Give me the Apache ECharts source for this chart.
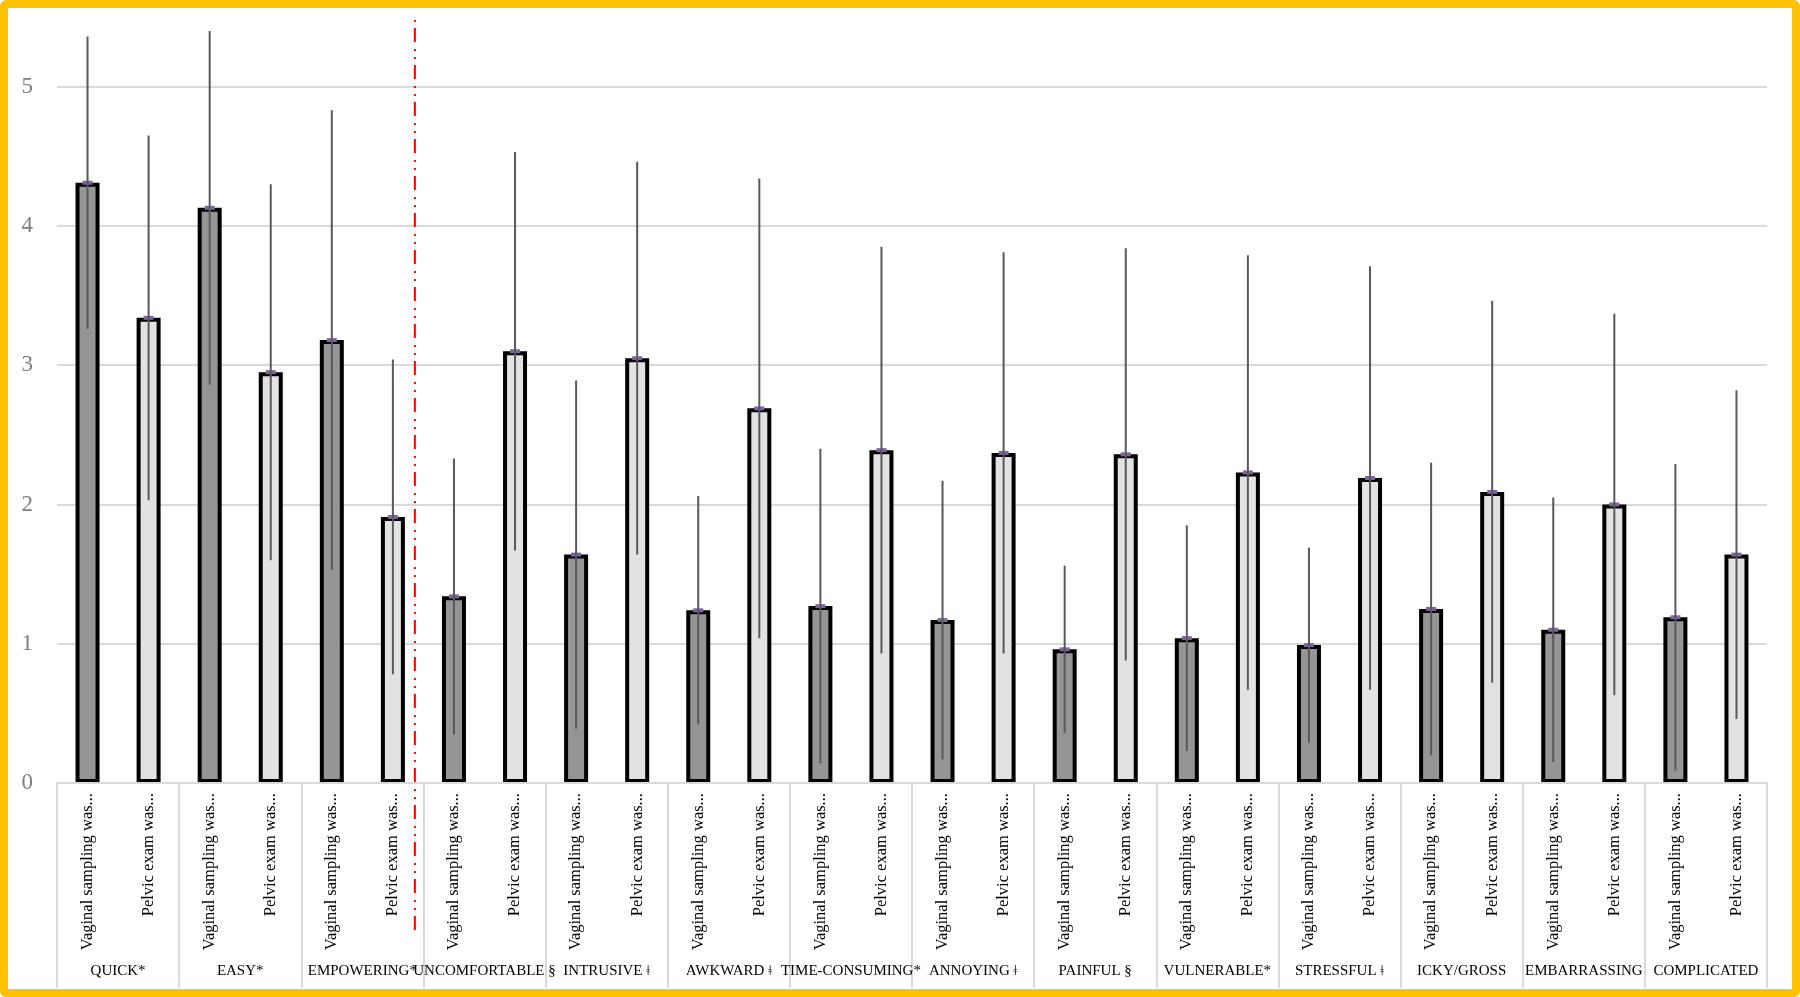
<!DOCTYPE html>
<html>
<head>
<meta charset="utf-8">
<script src="https://cdn.jsdelivr.net/npm/echarts@6.0.0/dist/echarts.min.js"></script>
<style>
  html, body { margin: 0; padding: 0; background: #ffffff; }
  #wrap { position: relative; width: 1800px; height: 997px; }
  #chart { position: absolute; left: 0; top: 0; width: 1800px; height: 997px; }
  #frame { position: absolute; left: 0; top: 0; width: 1800px; height: 997px; box-sizing: border-box;
           border: 8px solid #FFC000; border-radius: 6px; pointer-events: none; }
</style>
</head>
<body>
<div id="wrap">
  <div id="chart"></div>
  <div id="frame"></div>
</div>
<script>
// ---- data ----
const groups = ['QUICK*', 'EASY*', 'EMPOWERING*', 'UNCOMFORTABLE §', 'INTRUSIVE ǂ', 'AWKWARD ǂ',
  'TIME-CONSUMING*', 'ANNOYING ǂ', 'PAINFUL §', 'VULNERABLE*', 'STRESSFUL ǂ', 'ICKY/GROSS',
  'EMBARRASSING', 'COMPLICATED'];
const vaginalLabel = 'Vaginal sampling was...';
const pelvicLabel = 'Pelvic exam was...';
const vaginalMean = [4.31, 4.13, 3.18, 1.34, 1.64, 1.24, 1.27, 1.17, 0.96, 1.04, 0.99, 1.25, 1.10, 1.19];
const vaginalSD   = [1.05, 1.27, 1.65, 0.99, 1.25, 0.82, 1.13, 1.00, 0.60, 0.81, 0.70, 1.05, 0.95, 1.10];
const pelvicMean  = [3.34, 2.95, 1.91, 3.10, 3.05, 2.69, 2.39, 2.37, 2.36, 2.23, 2.19, 2.09, 2.00, 1.64];
const pelvicSD    = [1.31, 1.35, 1.13, 1.43, 1.41, 1.65, 1.46, 1.44, 1.48, 1.56, 1.52, 1.37, 1.37, 1.18];
const yTicks = [0, 1, 2, 3, 4, 5];
const dividerAt = 5.86; // red separator, in bar-category units

// ---- build ----
const cats = [], means = [], errs = [];
groups.forEach(function (g, i) {
  cats.push(vaginalLabel); means.push(vaginalMean[i]); errs.push([cats.length - 1, vaginalMean[i], vaginalSD[i]]);
  cats.push(pelvicLabel);  means.push(pelvicMean[i]);  errs.push([cats.length - 1, pelvicMean[i], pelvicSD[i]]);
});

const FONT = 'Liberation Serif';
const chart = echarts.init(document.getElementById('chart'), null, { renderer: 'canvas' });
chart.setOption({
  animation: false,
  backgroundColor: '#ffffff',
  grid: [
    { left: 57, right: 33, top: 17, bottom: 214 },
    { left: 57, right: 33, top: 14, bottom: 67 }
  ],
  xAxis: [
    {
      type: 'category', gridIndex: 0, data: cats, position: 'bottom', z: 5,
      axisLine: { show: true, lineStyle: { color: '#d9d9d9', width: 2 } },
      axisTick: { show: false },
      axisLabel: { interval: 0, rotate: 90, margin: 10, fontFamily: FONT, fontSize: 16.5, color: '#000000' },
      splitLine: { show: false }
    },
    {
      type: 'category', gridIndex: 0, data: groups, position: 'bottom',
      axisLine: { show: false },
      axisTick: { show: true, interval: 0, alignWithLabel: false, length: 205, lineStyle: { color: '#d9d9d9', width: 2 } },
      axisLabel: { interval: 0, margin: 181, fontFamily: FONT, fontSize: 15, color: '#000000' },
      splitLine: { show: false }
    },
    { type: 'value', gridIndex: 1, min: 0, max: cats.length, show: false }
  ],
  yAxis: [
    {
      type: 'value', gridIndex: 0, min: 0, max: 5.5, interval: 1,
      axisLine: { show: false }, axisTick: { show: false },
      axisLabel: {
        margin: 24, fontFamily: FONT, fontSize: 23, color: '#7f7f7f', showMaxLabel: false,
        formatter: function (v) { return yTicks.indexOf(v) >= 0 ? String(v) : ''; }
      },
      splitLine: { show: true, showMaxLine: false, lineStyle: { color: '#d9d9d9', width: 2 } }
    },
    { type: 'value', gridIndex: 1, min: 0, max: 1, show: false }
  ],
  series: [
    {
      type: 'bar', xAxisIndex: 0, yAxisIndex: 0, data: means, barWidth: 24,
      itemStyle: {
        color: function (p) { return p.dataIndex % 2 === 0 ? '#959595' : '#e2e2e2'; },
        borderColor: '#000000', borderWidth: 4
      },
      z: 2
    },
    {
      type: 'custom', xAxisIndex: 0, yAxisIndex: 0, data: errs, z: 6,
      renderItem: function (params, api) {
        const x = api.value(0), m = api.value(1), s = api.value(2);
        const hi = api.coord([x, m + s]);
        const lo = api.coord([x, Math.max(0, m - s)]);
        const mid = api.coord([x, m]);
        return {
          type: 'group',
          children: [
            { type: 'rect', shape: { x: mid[0] - 5, y: mid[1] - 2, width: 10, height: 4 },
              style: { fill: '#8064A2' } },
            { type: 'line', shape: { x1: hi[0], y1: hi[1], x2: lo[0], y2: lo[1] },
              style: { stroke: '#595959', lineWidth: 2 } }
          ]
        };
      }
    },
    {
      type: 'line', xAxisIndex: 2, yAxisIndex: 1, data: [[dividerAt, 0], [dividerAt, 1]],
      showSymbol: false, symbol: 'none', silent: true, z: 7,
      lineStyle: { color: '#ff0000', width: 2, type: [14, 6, 2, 6, 2, 7] }
    }
  ]
});
</script>
</body>
</html>
